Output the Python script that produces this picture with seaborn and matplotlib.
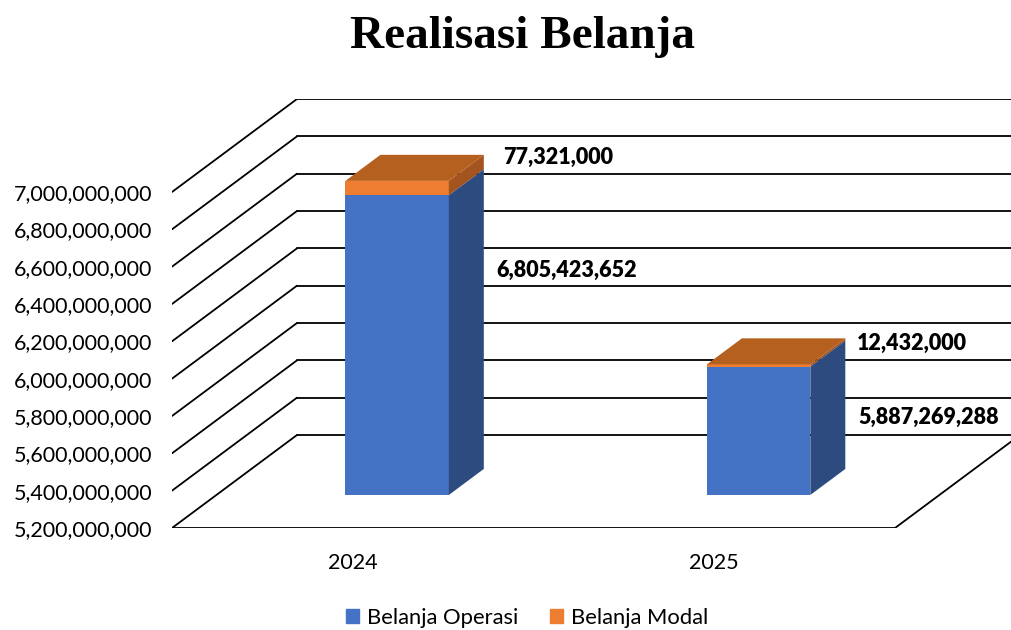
import seaborn as sns
import matplotlib.pyplot as plt
from matplotlib.patches import Polygon, Patch

# data
years = ["2024", "2025"]
belanja_operasi = [6805423652, 5887269288]
belanja_modal = [77321000, 12432000]
y_ticks = [5200000000, 5400000000, 5600000000, 5800000000, 6000000000,
           6200000000, 6400000000, 6600000000, 6800000000, 7000000000]
base = y_ticks[0]
totals = [o + m for o, m in zip(belanja_operasi, belanja_modal)]

# colors (excel style)
blue, blue_side = "#4472C4", "#2E4B80"
orange, orange_side, orange_top = "#ED7D31", "#A4541E", "#B5601F"

sns.set_style("white")
plt.rcParams['font.family'] = ['Lato', 'DejaVu Sans']
plt.rcParams['text.color'] = 'black'

W, H = 1011, 630
fig = plt.figure(figsize=(W / 100, H / 100), dpi=100)
ax = fig.add_axes([172 / W, (H - 528) / H, (1020 - 172) / W, (528 - 99) / H])

# pseudo 3d geometry (data units per pixel)
px_x = 2 / 723
px_y = (y_ticks[1] - y_ticks[0]) / 37.333
depth_x, depth_y = 125 * px_x, 93 * px_y
fx, fy = 0.355 * depth_x, 0.355 * depth_y   # bar front plane
bdx, bdy = 0.28 * depth_x, 0.28 * depth_y   # bar depth

# front faces via seaborn
sns.barplot(x=years, y=totals, color=orange, width=0.286, saturation=1,
            errorbar=None, linewidth=0, ax=ax, zorder=3)
sns.barplot(x=years, y=belanja_operasi, color=blue, width=0.286, saturation=1,
            errorbar=None, linewidth=0, ax=ax, zorder=3)

segments = [(ax.containers[0], belanja_operasi, totals, orange_side),
            (ax.containers[1], [base] * len(years), belanja_operasi, blue_side)]
for container, lows, highs, side_col in segments:
    for rect, lo, hi in zip(container, lows, highs):
        x0 = rect.get_x() + fx
        x1 = x0 + rect.get_width()
        rect.set_x(x0)
        rect.set_y(lo + fy)
        rect.set_height(hi - lo)
        side = [(x1, lo + fy), (x1, hi + fy), (x1 + bdx, hi + fy + bdy), (x1 + bdx, lo + fy + bdy)]
        ax.add_patch(Polygon(side, closed=True, color=side_col, lw=0, zorder=3))

# top faces
for rect, top in zip(ax.containers[0], totals):
    x0 = rect.get_x()
    x1 = x0 + rect.get_width()
    t = top + fy
    face = [(x0, t), (x1, t), (x1 + bdx, t + bdy), (x0 + bdx, t + bdy)]
    ax.add_patch(Polygon(face, closed=True, color=orange_top, lw=0, zorder=3))

# walls and floor
lc, lw = "black", 1.3
for t in y_ticks:
    ax.plot([-0.5, -0.5 + depth_x], [t, t + depth_y], color=lc, lw=lw, zorder=1)
    ax.plot([-0.5 + depth_x, 1.5 + depth_x], [t + depth_y] * 2, color=lc, lw=lw, zorder=1)
ax.plot([-0.5, 1.5], [base, base], color=lc, lw=lw, zorder=1)
ax.plot([1.5, 1.5 + depth_x], [base, base + depth_y], color=lc, lw=lw, zorder=1)

ax.set_xlim(-0.5, 1.5 + depth_x)
ax.set_ylim(base, y_ticks[-1] + depth_y)
ax.set_yticks(y_ticks)
ax.set_yticklabels([f"{t:,}" for t in y_ticks])
ax.set_xticks(range(len(years)))
ax.set_xticklabels(years)
ax.set_xlabel("")
ax.set_ylabel("")
ax.tick_params(axis='y', length=0, pad=14, labelsize=15.5, colors='black')
ax.tick_params(axis='x', length=0, pad=18, labelsize=15.5, colors='black')
for s in ax.spines.values():
    s.set_visible(False)

# data labels (offsets in pixels from the back-right top corner of each segment)
modal_offsets = [(19, -3), (12, -5)]
operasi_offsets = [(13, -101), (13, -77)]
for rect, top, val, off in zip(ax.containers[0], totals, belanja_modal, modal_offsets):
    xr = rect.get_x() + rect.get_width() + bdx
    ax.annotate(f"{val:,}", xy=(xr, top + fy + bdy), xytext=off, textcoords="offset pixels",
                ha='left', va='center', fontsize=15.5, fontweight='heavy', color='black')
for rect, top, val, off in zip(ax.containers[1], belanja_operasi, belanja_operasi, operasi_offsets):
    xr = rect.get_x() + rect.get_width() + bdx
    ax.annotate(f"{val:,}", xy=(xr, top + fy + bdy), xytext=off, textcoords="offset pixels",
                ha='left', va='center', fontsize=15.5, fontweight='heavy', color='black')

# title
fig.text(522.5 / W, 1 - 48 / H, "Realisasi Belanja", ha='center', va='baseline',
         family=['Liberation Serif', 'DejaVu Serif'], fontweight='bold', fontsize=34, color='black')

# legend
handles = [Patch(color=blue), Patch(color=orange)]
fig.legend(handles, ["Belanja Operasi", "Belanja Modal"], loc='center',
           bbox_to_anchor=(527 / W, 1 - 618 / H), ncol=2, frameon=False, fontsize=15.8,
           handlelength=0.6, handleheight=0.6, handletextpad=0.35, columnspacing=1.45)

fig.savefig("out.png", dpi=100)
